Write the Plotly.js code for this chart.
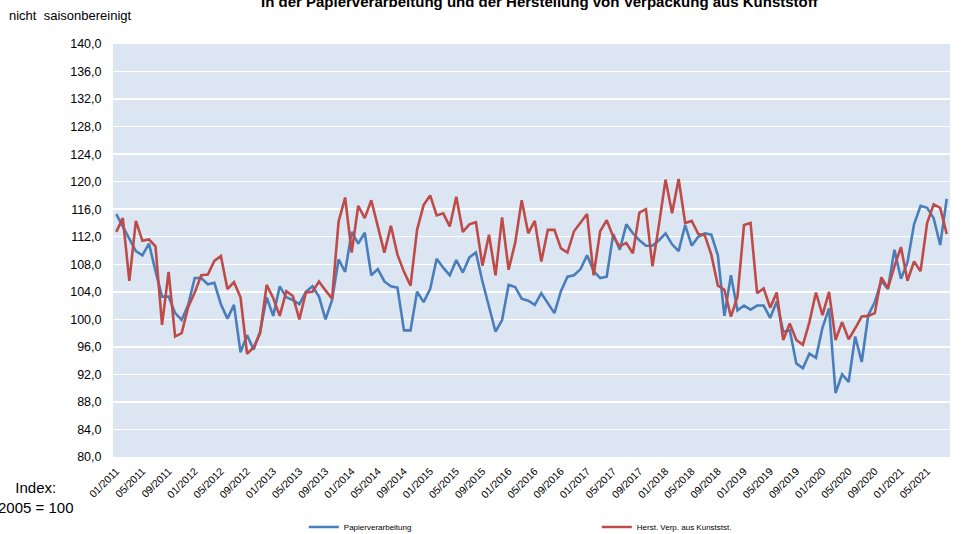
<!DOCTYPE html>
<html>
<head>
<meta charset="utf-8">
<script src="https://cdn.plot.ly/plotly-3.0.1.min.js"></script>
<style>html,body{margin:0;padding:0;background:#fff;}#chart{width:966px;height:534px;}</style>
</head>
<body>
<div id="chart"></div>
<script>
const months = [
 '01/2011','02/2011','03/2011','04/2011','05/2011','06/2011','07/2011','08/2011','09/2011','10/2011','11/2011','12/2011',
 '01/2012','02/2012','03/2012','04/2012','05/2012','06/2012','07/2012','08/2012','09/2012','10/2012','11/2012','12/2012',
 '01/2013','02/2013','03/2013','04/2013','05/2013','06/2013','07/2013','08/2013','09/2013','10/2013','11/2013','12/2013',
 '01/2014','02/2014','03/2014','04/2014','05/2014','06/2014','07/2014','08/2014','09/2014','10/2014','11/2014','12/2014',
 '01/2015','02/2015','03/2015','04/2015','05/2015','06/2015','07/2015','08/2015','09/2015','10/2015','11/2015','12/2015',
 '01/2016','02/2016','03/2016','04/2016','05/2016','06/2016','07/2016','08/2016','09/2016','10/2016','11/2016','12/2016',
 '01/2017','02/2017','03/2017','04/2017','05/2017','06/2017','07/2017','08/2017','09/2017','10/2017','11/2017','12/2017',
 '01/2018','02/2018','03/2018','04/2018','05/2018','06/2018','07/2018','08/2018','09/2018','10/2018','11/2018','12/2018',
 '01/2019','02/2019','03/2019','04/2019','05/2019','06/2019','07/2019','08/2019','09/2019','10/2019','11/2019','12/2019',
 '01/2020','02/2020','03/2020','04/2020','05/2020','06/2020','07/2020','08/2020','09/2020','10/2020','11/2020','12/2020',
 '01/2021','02/2021','03/2021','04/2021','05/2021','06/2021','07/2021','08/2021'
];

const tickLabels = [
 '01/2011','05/2011','09/2011','01/2012','05/2012','09/2012','01/2013','05/2013','09/2013',
 '01/2014','05/2014','09/2014','01/2015','05/2015','09/2015','01/2016','05/2016','09/2016',
 '01/2017','05/2017','09/2017','01/2018','05/2018','09/2018','01/2019','05/2019','09/2019',
 '01/2020','05/2020','09/2020','01/2021','05/2021'
];

const papierverarbeitung = [
 115.3,113.5,111.8,109.9,109.3,111.0,107.0,103.3,103.3,100.9,99.9,102.1,
 106.0,106.0,105.1,105.3,102.2,100.1,102.1,95.2,97.7,95.6,98.2,103.2,
 100.5,104.8,103.2,102.8,102.2,104.0,104.8,103.3,100.0,102.8,108.7,106.9,
 112.7,111.0,112.6,106.4,107.3,105.5,104.8,104.6,98.4,98.4,104.0,102.5,
 104.4,108.8,107.5,106.4,108.6,106.8,109.0,109.7,105.5,101.8,98.2,99.9,
 105.0,104.7,103.0,102.7,102.1,103.8,102.3,100.9,104.1,106.2,106.4,107.3,
 109.3,107.0,106.0,106.2,112.4,110.1,113.8,112.5,111.5,110.7,110.7,111.5,
 112.5,110.9,109.9,113.7,110.7,112.0,112.5,112.3,109.3,100.5,106.4,101.3,
 102.0,101.4,102.0,102.0,100.2,102.6,98.2,98.4,93.6,92.9,95.0,94.4,
 98.8,101.6,89.3,92.0,90.9,97.5,93.8,100.6,102.5,105.6,104.4,110.1,
 105.9,108.3,113.8,116.5,116.2,114.7,110.8,117.5
];

const kunststoff = [
 112.7,114.7,105.6,114.3,111.4,111.6,110.6,99.2,106.9,97.5,98.0,101.8,
 103.9,106.4,106.5,108.5,109.2,104.4,105.4,103.2,95.0,95.9,98.0,105.0,
 103.1,100.5,104.1,103.4,100.0,103.9,104.0,105.5,104.2,103.0,114.2,117.7,
 109.7,116.5,114.7,117.3,113.5,109.7,113.6,109.4,106.9,104.9,113.0,116.6,
 118.0,115.1,115.4,113.5,117.8,112.7,113.8,114.1,107.8,112.3,106.4,114.8,
 107.2,111.1,117.3,112.5,114.3,108.4,113.0,113.0,110.3,109.7,112.8,114.1,
 115.3,106.4,112.8,114.4,112.0,110.6,111.1,109.6,115.5,116.0,107.7,113.8,
 120.3,115.4,120.4,114.0,114.3,112.4,112.2,109.4,104.9,104.3,100.4,103.3,
 113.7,114.0,103.8,104.5,101.7,103.9,97.0,99.4,97.0,96.3,99.6,103.9,
 100.6,104.0,97.0,99.6,97.1,98.7,100.4,100.5,100.9,106.1,104.5,107.7,
 110.5,105.6,108.4,107.0,114.0,116.7,116.2,112.4
];

const seriesNames = ['Papierverarbeitung', 'Herst. Verp. aus Kunststst.'];
const titleText = 'In der Papierverarbeitung und der Herstellung von Verpackung aus Kunststoff';

const FONT = 'Liberation Sans, Arial, sans-serif';

const traces = [
  {x: months, y: papierverarbeitung, type: 'scatter', mode: 'lines', name: seriesNames[0],
   line: {color: '#4A7EBB', width: 2.6}, legend: 'legend'},
  {x: months, y: kunststoff, type: 'scatter', mode: 'lines', name: seriesNames[1],
   line: {color: '#BE4B48', width: 2.6}, legend: 'legend2'}
];

const layout = {
  width: 966, height: 534,
  margin: {l: 113, r: 16, t: 44, b: 77, pad: 0},
  paper_bgcolor: '#ffffff',
  plot_bgcolor: '#DCE6F2',
  separators: ',.',
  font: {family: FONT, color: '#000000'},
  showlegend: true,
  xaxis: {
    type: 'category', range: [-0.5, months.length - 0.5], automargin: false,
    tickmode: 'array', tickvals: tickLabels, ticktext: tickLabels,
    tickangle: -45, tickfont: {size: 10.5, family: FONT, color: '#000'},
    showgrid: false, zeroline: false, showline: false,
    ticks: 'outside', ticklen: 3, tickcolor: 'rgba(0,0,0,0)'
  },
  yaxis: {
    range: [80, 140], dtick: 4, tick0: 80, tickformat: '.1f', automargin: false,
    tickfont: {size: 12.5, family: FONT, color: '#000'},
    showgrid: true, gridcolor: '#ffffff', gridwidth: 1.5,
    zeroline: false, showline: false,
    ticks: 'outside', ticklen: 8, tickcolor: 'rgba(0,0,0,0)'
  },
  legend: {x: 0.228, y: 0.0131, xref: 'paper', yref: 'container', xanchor: 'left', yanchor: 'middle', orientation: 'h',
    font: {size: 8, family: FONT}, bgcolor: 'rgba(0,0,0,0)'},
  legend2: {x: 0.578, y: 0.0131, xref: 'paper', yref: 'container', xanchor: 'left', yanchor: 'middle', orientation: 'h',
    font: {size: 8, family: FONT}, bgcolor: 'rgba(0,0,0,0)'},
  annotations: [
    {text: '<b>' + titleText + '</b>', xref: 'paper', yref: 'paper', x: 0.51, y: 1.104,
     xanchor: 'center', yanchor: 'middle', showarrow: false, font: {size: 15, family: FONT}},
    {text: 'nicht\u00a0 saisonbereinigt', xref: 'paper', yref: 'paper', x: -0.1266, y: 1.068,
     xanchor: 'left', yanchor: 'middle', showarrow: false, font: {size: 13, family: FONT}},
    {text: 'Index:<br>2005 = 100', xref: 'paper', yref: 'paper', x: -0.092, y: -0.098,
     xanchor: 'center', yanchor: 'middle', align: 'center', showarrow: false, font: {size: 15, family: FONT}}
  ]
};

Plotly.newPlot('chart', traces, layout, {displayModeBar: false, staticPlot: true});
</script>
</body>
</html>
